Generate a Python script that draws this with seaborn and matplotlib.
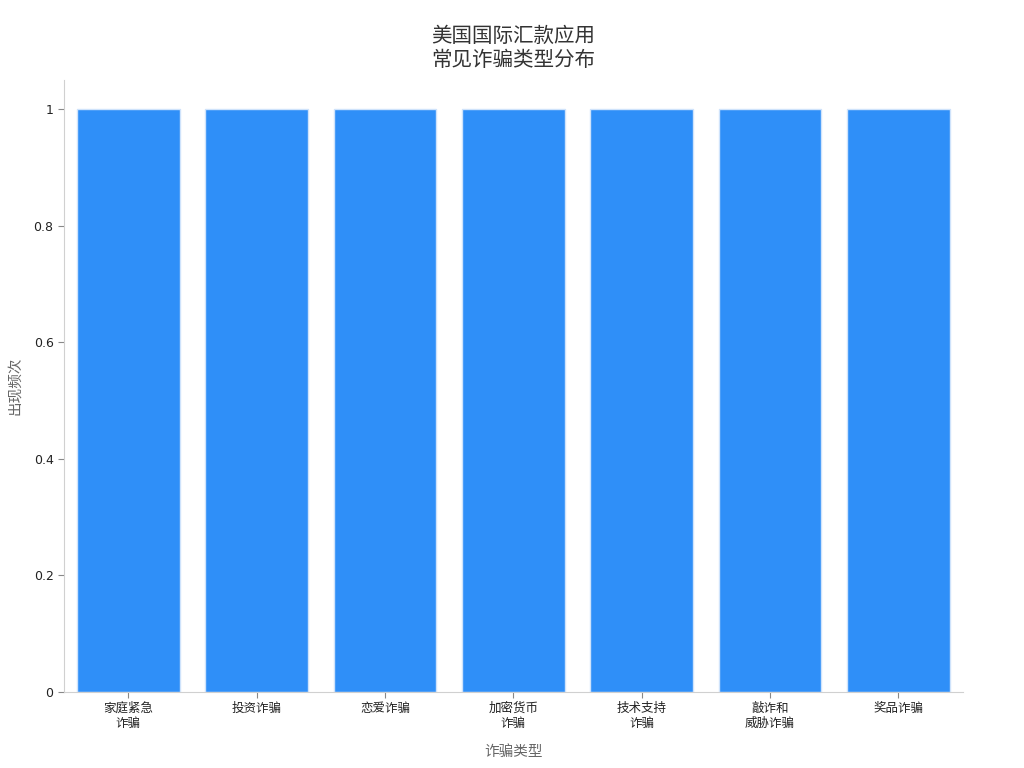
import matplotlib
matplotlib.use("Agg")
import matplotlib.pyplot as plt
import matplotlib.ticker as mticker
import seaborn as sns
import pandas as pd

# chart data
categories = ["家庭紧急\n诈骗", "投资诈骗", "恋爱诈骗", "加密货币\n诈骗", "技术支持\n诈骗", "敲诈和\n威胁诈骗", "奖品诈骗"]
counts = [1, 1, 1, 1, 1, 1, 1]

sns.set_style("white")
plt.rcParams['font.family'] = ['DejaVu Sans', 'Noto Sans CJK SC']

df = pd.DataFrame({"类型": categories, "次数": counts})

fig = plt.figure(figsize=(10.24, 7.68), dpi=100)
ax = fig.add_axes([0.0625, 0.099, 0.8775, 0.797])

sns.barplot(data=df, x="类型", y="次数", color="#2f8ff8", saturation=1,
            width=0.8, edgecolor="#cfe3fb", linewidth=1, ax=ax)

ax.set_xlim(-0.5, 6.5)
ax.set_ylim(0, 1.05)
ax.yaxis.set_major_locator(mticker.MultipleLocator(0.2))
ax.yaxis.set_major_formatter(mticker.FuncFormatter(lambda v, p: f"{v:g}"))

for s in ["top", "right"]:
    ax.spines[s].set_visible(False)
for s in ["left", "bottom"]:
    ax.spines[s].set_color("#d0d0d0")

ax.tick_params(axis="both", left=True, bottom=True, length=4, width=0.8,
               color="#888888", labelsize=9, labelcolor="#222222")
ax.tick_params(axis="x", pad=3)

ax.set_xlabel("诈骗类型", fontsize=10.5, color="#666666", labelpad=10)
ax.set_ylabel("出现频次", fontsize=10.5, color="#666666", labelpad=8)
ax.set_title("美国国际汇款应用\n常见诈骗类型分布", fontsize=14.8, color="#333333", pad=10, linespacing=1.25)

fig.savefig("out.png", dpi=100)
